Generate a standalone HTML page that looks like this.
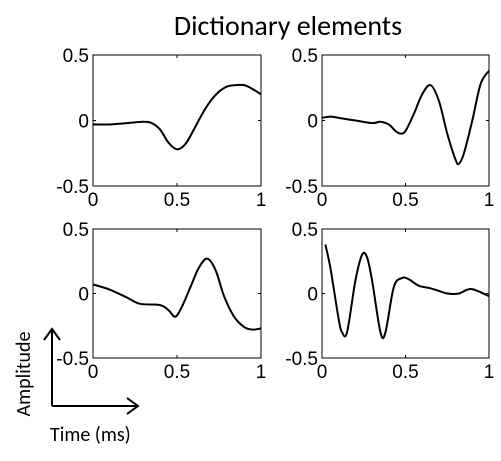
<!DOCTYPE html>
<html><head><meta charset="utf-8"><style>
body{margin:0;background:#fff;}
svg text{font-family:"Liberation Sans",Arial,sans-serif;}
</style></head><body>
<svg width="501" height="456" viewBox="0 0 501 456" xmlns="http://www.w3.org/2000/svg">
<text x="288" y="35" text-anchor="middle" font-size="28" style="font-family:'Carlito','Liberation Sans',sans-serif">Dictionary elements</text>
<g id="plots"></g>
<g stroke="#000" stroke-width="2" fill="none">
<line x1="52" y1="406" x2="52" y2="330"/>
<polyline points="44,340 52,329 60,340"/>
<line x1="52" y1="406" x2="137" y2="406"/>
<polyline points="127,398 138,406 127,414"/>
</g>
<text transform="translate(30,374) rotate(-90)" text-anchor="middle" font-size="20" style="font-family:'Carlito','Liberation Sans',sans-serif">Amplitude</text>
<text x="50" y="441" font-size="20" style="font-family:'Carlito','Liberation Sans',sans-serif">Time (ms)</text>
</svg>
<script>
const xTicks=[0,0.5,1];
const yTicks=[0.5,0,-0.5];
const xTickLabels=["0","0.5","1"];
const yTickLabels=["0.5","0","-0.5"];
const tlX=[0,.1,.2,.3,.35,.4,.45,.5,.55,.6,.65,.7,.75,.8,.85,.9,.95,1];
const tlY=[-.03,-.03,-.02,-.01,-.02,-.07,-.17,-.22,-.18,-.07,.05,.15,.22,.26,.27,.27,.24,.2];
const trX=[0,.05,.1,.2,.3,.35,.4,.44,.47,.5,.55,.6,.65,.7,.75,.8,.82,.85,.9,.95,1];
const trY=[.02,.03,.02,0,-.02,-.01,-.03,-.08,-.1,-.08,.05,.2,.27,.15,-.1,-.3,-.33,-.25,0,.28,.38];
const blX=[0,.1,.2,.28,.4,.45,.49,.53,.58,.63,.68,.73,.78,.84,.9,.95,1];
const blY=[.07,.03,-.03,-.08,-.09,-.13,-.18,-.1,.05,.2,.27,.18,-.02,-.18,-.26,-.28,-.27];
const brX=[.02,.05,.1,.12,.15,.2,.24,.27,.3,.35,.38,.43,.48,.52,.58,.65,.7,.75,.82,.87,.91,1];
const brY=[.38,.2,-.2,-.3,-.3,.1,.3,.28,.1,-.3,-.3,.05,.12,.11,.06,.04,.02,0,0,.03,.03,-.02];
const panels=[
 {name:'top-left',x0:93,x1:261,y0:55,y1:186,xs:tlX,ys:tlY},
 {name:'top-right',x0:322,x1:489,y0:55,y1:186,xs:trX,ys:trY},
 {name:'bottom-left',x0:93,x1:261,y0:229,y1:358,xs:blX,ys:blY},
 {name:'bottom-right',x0:322,x1:489,y0:229,y1:358,xs:brX,ys:brY}];
const NS='http://www.w3.org/2000/svg';
const root=document.getElementById('plots');
function mk(t,a,p){const e=document.createElementNS(NS,t);for(const k in a)e.setAttribute(k,a[k]);p.appendChild(e);return e;}
panels.forEach(p=>{
 const sx=v=>p.x0+v*(p.x1-p.x0);
 const sy=v=>p.y0+(0.5-v)*(p.y1-p.y0);
 const g=mk('g',{},root);
 
 
 const r=mk('rect',{x:p.x0,y:p.y0,width:p.x1-p.x0,height:p.y1-p.y0,fill:'none',stroke:'#000','stroke-width':1},g);
 
 
 xTicks.forEach((t,i)=>{
  mk('line',{x1:sx(t),x2:sx(t),y1:p.y1,y2:p.y1-3,stroke:'#000'},g);
  mk('line',{x1:sx(t),x2:sx(t),y1:p.y0,y2:p.y0+3,stroke:'#000'},g);
  const tx=mk('text',{x:sx(t),y:p.y1+20,'text-anchor':'middle','font-size':19},g);
  tx.textContent=xTickLabels[i];
  
  
 });
 yTicks.forEach((t,i)=>{
  mk('line',{x1:p.x0,x2:p.x0+3,y1:sy(t),y2:sy(t),stroke:'#000'},g);
  mk('line',{x1:p.x1,x2:p.x1-3,y1:sy(t),y2:sy(t),stroke:'#000'},g);
  const tx=mk('text',{x:p.x0-4,y:sy(t)+7,'text-anchor':'end','font-size':19},g);
  tx.textContent=yTickLabels[i];
  
  
 });
 const pts=p.xs.map((x,i)=>[sx(x),sy(p.ys[i])]);
 let d='M'+pts[0][0]+','+pts[0][1];
 for(let i=0;i<pts.length-1;i++){
  const p0=pts[Math.max(0,i-1)],p1=pts[i],p2=pts[i+1],p3=pts[Math.min(pts.length-1,i+2)];
  const c1=[p1[0]+(p2[0]-p0[0])/6,p1[1]+(p2[1]-p0[1])/6];
  const c2=[p2[0]-(p3[0]-p1[0])/6,p2[1]-(p3[1]-p1[1])/6];
  d+=' C'+c1+' '+c2+' '+p2;
 }
 const path=mk('path',{d:d,fill:'none',stroke:'#000','stroke-width':2},g);
 
 
});
</script>
</body></html>
